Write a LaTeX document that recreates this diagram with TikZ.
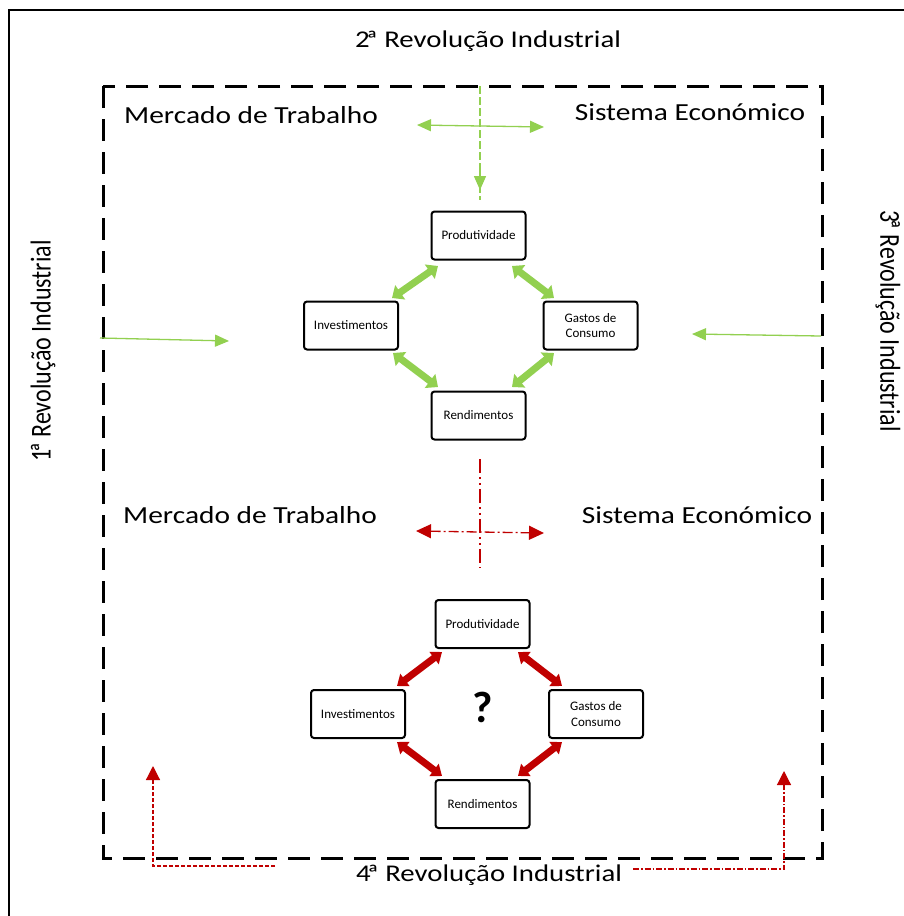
\documentclass[tikz,border=0pt]{standalone}
\usepackage{fontspec}
\setmainfont{Carlito}
\usetikzlibrary{arrows.meta}
\definecolor{grn}{HTML}{92D050}
\definecolor{rd}{HTML}{C00000}
\newcommand\wideT[1]{\scalebox{1.2}[1]{#1}}
\newcommand\tallT[1]{\scalebox{1}[1.2]{#1}}
\newcommand\ordA{\kern-0.12em ª}
\tikzset{
  box/.style={draw, line width=2pt, rounded corners=3pt, minimum width=94pt, minimum height=48pt, align=center, font=\fontsize{13}{15.5}\selectfont, inner sep=1pt},
  lbl/.style={font=\fontsize{24.5}{28}\selectfont, inner sep=0pt},
  rev/.style={font=\fontsize{24}{28}\selectfont, inner sep=0pt},
  garr/.style={grn, line width=7pt, {Triangle[width=17pt,length=10pt]}-{Triangle[width=17pt,length=10pt]}},
  rarr/.style={rd, line width=7pt, {Triangle[width=15pt,length=10pt]}-{Triangle[width=15pt,length=10pt]}},
  thin/.style={grn, line width=1.3pt},
  thinhead/.style={-{Triangle[width=12pt,length=14pt]}},
}
\begin{document}
\begin{tikzpicture}[x=1pt,y=-1pt]
\useasboundingbox (0,0) rectangle (903,916);
\fill[white] (0,0) rectangle (903,916);
% outer frame
\draw[line width=2.5pt] (9,930) -- (9,10) -- (930,10);
% dashed inner frame
\draw[line width=3pt, dash pattern=on 22pt off 11pt] (103,86) rectangle (822,858);

% texts
\node[rev] (t2) at (488,41) {\wideT{2\ordA{} Revolução Industrial}};
\node[rev, rotate=90] (t1) at (43,351) {\tallT{1\ordA{} Revolução Industrial}};
\node[rev, rotate=-90] (t3) at (888,321) {\tallT{3\ordA{} Revolução Industrial}};
\node[rev] (t4) at (489,875) {\wideT{4\ordA{} Revolução Industrial}};
\node[lbl] (m1) at (251,115) {\wideT{Mercado de Trabalho}};
\node[lbl] (s1) at (690,112) {\wideT{Sistema Económico}};
\node[lbl] (m2) at (250,515) {\wideT{Mercado de Trabalho}};
\node[lbl] (s2) at (697,515) {\wideT{Sistema Económico}};

% top boxes
\node[box] (p1) at (478.5,235.5) {Produtividade};
\node[box] (i1) at (351,325.5) {Investimentos};
\node[box] (g1) at (590.5,325.5) {Gastos de\\Consumo};
\node[box] (r1) at (478.5,415.5) {Rendimentos};
% bottom boxes
\node[box] (p2) at (482.5,624) {Produtividade};
\node[box] (i2) at (358,714) {Investimentos};
\node[box] (g2) at (596,714) {Gastos de\\Consumo};
\node[box] (r2) at (482.5,804) {Rendimentos};
\node[font=\fontsize{44}{48}\selectfont\bfseries] (q) at (483,707) {?};

% green thick arrows
\coordinate (a1) at (438,266); \coordinate (a2) at (392,298);
\coordinate (b1) at (512,266); \coordinate (b2) at (554,298);
\coordinate (c1) at (393,353); \coordinate (c2) at (438,387);
\coordinate (d1) at (554,353); \coordinate (d2) at (512,387);
\draw[garr] (a1) -- (a2);
\draw[garr] (b1) -- (b2);
\draw[garr] (c1) -- (c2);
\draw[garr] (d1) -- (d2);

% red thick arrows
\coordinate (e1) at (442,652); \coordinate (e2) at (397,686);
\coordinate (f1) at (518,652); \coordinate (f2) at (562,686);
\coordinate (h1) at (397,742); \coordinate (h2) at (442,776);
\coordinate (k1) at (562,742); \coordinate (k2) at (518,776);
\draw[rarr] (e1) -- (e2);
\draw[rarr] (f1) -- (f2);
\draw[rarr] (h1) -- (h2);
\draw[rarr] (k1) -- (k2);

% green cross top
\coordinate (v1) at (480,86); \coordinate (v2) at (480,190); \coordinate (v3) at (480,200);
\draw[grn, line width=1.5pt, dash pattern=on 8pt off 3pt] (v1) -- (v3);
\draw[grn, line width=1.5pt, thinhead] (480,170) -- (v2);
\coordinate (hl) at (417,125); \coordinate (hr) at (544,127);
\draw[grn, line width=1.3pt, {Triangle[width=12pt,length=14pt]}-{Triangle[width=12pt,length=14pt]}] (hl) -- (hr);

% green side arrows
\coordinate (la) at (100,338); \coordinate (lb) at (229,341);
\draw[thin, thinhead] (la) -- (lb);
\coordinate (ra) at (821,336); \coordinate (rb) at (692,334);
\draw[thin, thinhead] (ra) -- (rb);

% red dash-dot cross
\coordinate (w1) at (480,459); \coordinate (w2) at (480,568);
\draw[rd, line width=1.4pt, dash pattern=on 14pt off 4pt on 2pt off 4pt on 2pt off 4pt] (w1) -- (w2);
\coordinate (xl) at (416,531); \coordinate (xr) at (544,533);
\draw[rd, line width=1.3pt, dash pattern=on 10pt off 3pt on 2pt off 3pt, {Triangle[width=14pt,length=15pt]}-{Triangle[width=14pt,length=15pt]}] (xl) -- (xr);

% red L-shaped arrows bottom
\coordinate (l1) at (275,866); \coordinate (l2) at (153,866); \coordinate (l3) at (153,766);
\draw[rd, line width=1.2pt, dash pattern=on 4pt off 2pt, -{Triangle[width=14pt,length=14pt]}] (l1) -- (l2) -- (l3);
\coordinate (n1) at (633,869); \coordinate (n2) at (784,869); \coordinate (n3) at (784,771);
\draw[rd, line width=1.2pt, dash pattern=on 6pt off 2pt on 1.5pt off 2pt, -{Triangle[width=14pt,length=14pt]}] (n1) -- (n2) -- (n3);
\end{tikzpicture}
\end{document}
